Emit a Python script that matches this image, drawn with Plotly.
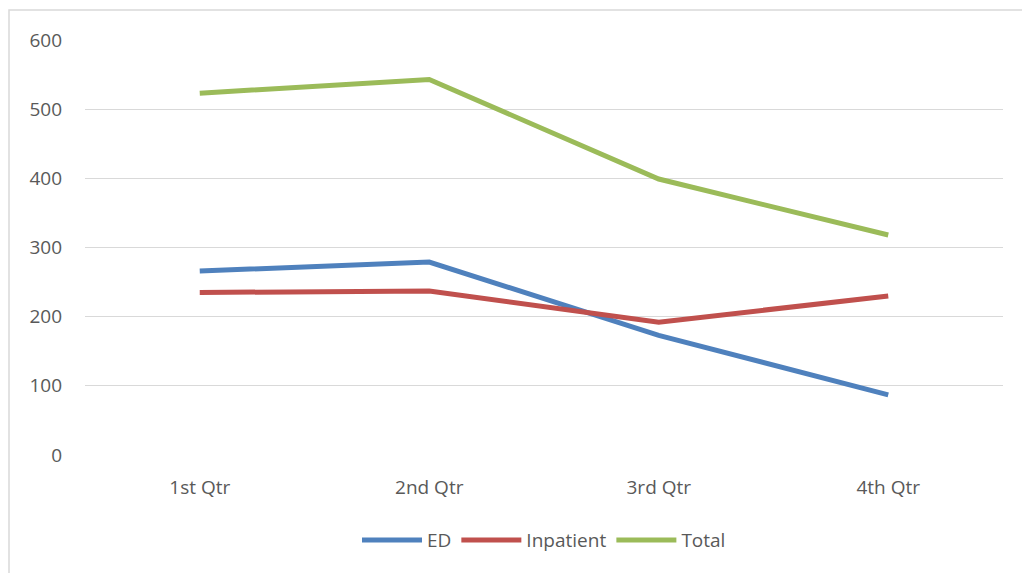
import plotly.graph_objects as go

categories = ["1st Qtr", "2nd Qtr", "3rd Qtr", "4th Qtr"]
ed = [266, 279, 173, 87]
inpatient = [235, 237, 192, 230]
total = [523, 543, 399, 318]

colors = {"ED": "#4f81bd", "Inpatient": "#c0504d", "Total": "#9bbb59"}

fig = go.Figure()
for name, vals in [("ED", ed), ("Inpatient", inpatient), ("Total", total)]:
    fig.add_trace(go.Scatter(x=categories, y=vals, mode="lines", name=name,
                             line=dict(color=colors[name], width=5)))

font = dict(family="Open Sans", size=19, color="#595959")
fig.update_layout(
    width=1022, height=573,
    margin=dict(l=85, r=19, t=40, b=118),
    paper_bgcolor="white", plot_bgcolor="white",
    font=font,
    showlegend=True,
    legend=dict(orientation="h", x=0.5, xanchor="center", y=-0.205, yanchor="middle",
                font=font, itemwidth=60, tracegroupgap=0),
    xaxis=dict(type="category", range=[-0.5, 3.5], showgrid=False, zeroline=False,
               showline=False, ticks="", ticklabelstandoff=19, tickfont=font),
    yaxis=dict(range=[0, 600], dtick=100, showgrid=True, gridcolor="#d9d9d9", gridwidth=1.3,
               zeroline=False, showline=False, ticks="", ticklabelstandoff=22, tickfont=font),
)
fig.add_shape(type="rect", xref="paper", yref="paper",
              x0=(9 - 85) / 918, x1=(1030 - 85) / 918,
              y0=(455 - 580) / 415, y1=(455 - 10) / 415,
              line=dict(color="#d9d9d9", width=1.5), fillcolor="rgba(0,0,0,0)", layer="below")
fig.write_html("out.html")
